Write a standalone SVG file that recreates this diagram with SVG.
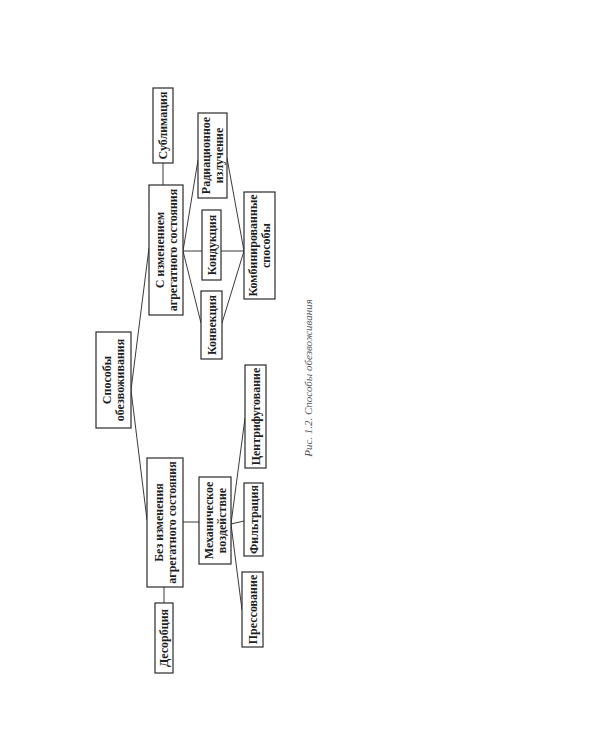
<svg xmlns="http://www.w3.org/2000/svg" width="600" height="750" viewBox="0 0 600 750">
<style>
.box{fill:#fff;stroke:#2a2a2a;stroke-width:1.2}
.t{font-family:"Liberation Serif","Times New Roman",serif;font-size:12px;font-weight:bold;fill:#1e1e1e;text-anchor:middle;dominant-baseline:central}
.c{stroke:#3a3a3a;stroke-width:1;fill:none}
.cap{font-family:"Liberation Serif","Times New Roman",serif;font-size:11px;font-style:italic;fill:#555;text-anchor:middle;dominant-baseline:central}
</style>
<rect width="600" height="750" fill="#fff"/>
<g id="connectors">
<line class="c" x1="131" y1="390" x2="149" y2="248"/>
<line class="c" x1="131" y1="390" x2="147" y2="520"/>
<line class="c" x1="163" y1="163" x2="163" y2="185"/>
<line class="c" x1="183" y1="251" x2="198" y2="160"/>
<line class="c" x1="183" y1="251" x2="202" y2="251"/>
<line class="c" x1="183" y1="251" x2="201" y2="323"/>
<line class="c" x1="227" y1="158" x2="244" y2="251"/>
<line class="c" x1="221" y1="251" x2="244" y2="251"/>
<line class="c" x1="222" y1="323" x2="244" y2="251"/>
<line class="c" x1="183" y1="522" x2="199" y2="522"/>
<line class="c" x1="164" y1="587" x2="164" y2="603"/>
<line class="c" x1="231" y1="524" x2="245" y2="418"/>
<line class="c" x1="231" y1="524" x2="244" y2="521"/>
<line class="c" x1="231" y1="524" x2="242" y2="610"/>
</g>
<g id="root">
<rect class="box" x="96" y="332" width="35" height="96"/>
<text class="t" transform="translate(113.5,380) rotate(-90)"><tspan x="0" dy="-6.5">Способы</tspan><tspan x="0" dy="13">обезвоживания</tspan></text>
</g>
<g id="with-change">
<rect class="box" x="149" y="185" width="34" height="130"/>
<text class="t" transform="translate(166,250) rotate(-90)"><tspan x="0" dy="-6.5">С изменением</tspan><tspan x="0" dy="13">агрегатного состояния</tspan></text>
</g>
<g id="sublimation">
<rect class="box" x="153" y="88" width="20" height="75"/>
<text class="t" transform="translate(163,125.5) rotate(-90)">Сублимация</text>
</g>
<g id="radiation">
<rect class="box" x="198" y="113" width="29" height="85"/>
<text class="t" transform="translate(212.5,155.5) rotate(-90)"><tspan x="0" dy="-6.5">Радиационное</tspan><tspan x="0" dy="13">излучение</tspan></text>
</g>
<g id="conduction">
<rect class="box" x="202" y="210" width="19" height="70"/>
<text class="t" transform="translate(211.5,245) rotate(-90)">Кондукция</text>
</g>
<g id="convection">
<rect class="box" x="201" y="291" width="21" height="68"/>
<text class="t" transform="translate(211.5,325) rotate(-90)">Конвекция</text>
</g>
<g id="combined">
<rect class="box" x="244" y="192" width="31" height="107"/>
<text class="t" transform="translate(259.5,245.5) rotate(-90)"><tspan x="0" dy="-6.5">Комбинированные</tspan><tspan x="0" dy="13">способы</tspan></text>
</g>
<g id="without-change">
<rect class="box" x="147" y="458" width="36" height="129"/>
<text class="t" transform="translate(165,522.5) rotate(-90)"><tspan x="0" dy="-6.5">Без изменения</tspan><tspan x="0" dy="13">агрегатного состояния</tspan></text>
</g>
<g id="desorption">
<rect class="box" x="155" y="603" width="18" height="70"/>
<text class="t" transform="translate(164,638) rotate(-90)">Десорбция</text>
</g>
<g id="mechanical">
<rect class="box" x="199" y="477" width="32" height="87"/>
<text class="t" transform="translate(215,520.5) rotate(-90)"><tspan x="0" dy="-6.5">Механическое</tspan><tspan x="0" dy="13">воздействие</tspan></text>
</g>
<g id="centrifuge">
<rect class="box" x="245" y="365" width="21" height="103"/>
<text class="t" transform="translate(255.5,416.5) rotate(-90)">Центрифугование</text>
</g>
<g id="filtration">
<rect class="box" x="244" y="483" width="19" height="73"/>
<text class="t" transform="translate(253.5,519.5) rotate(-90)">Фильтрация</text>
</g>
<g id="pressing">
<rect class="box" x="242" y="572" width="21" height="75"/>
<text class="t" transform="translate(252.5,609.5) rotate(-90)">Прессование</text>
</g>
<text class="cap" transform="translate(308,378) rotate(-90)">Рис. 1.2. Способы обезвоживания</text>
</svg>
